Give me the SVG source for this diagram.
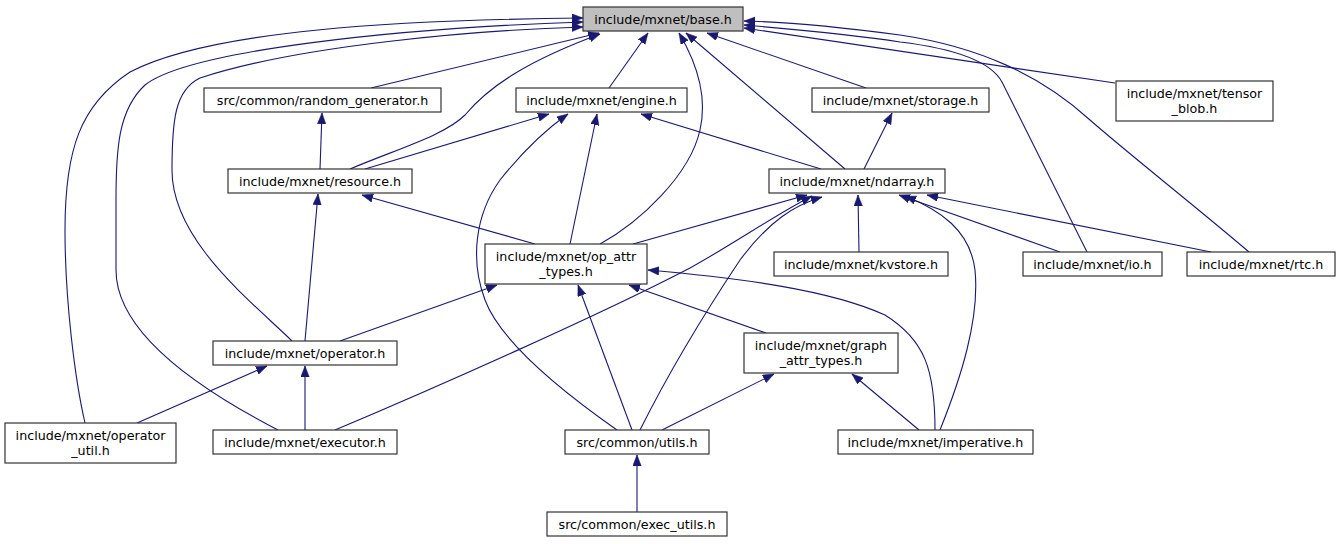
<svg xmlns="http://www.w3.org/2000/svg" width="1338" height="544" viewBox="0 0 1338 544">
<style>
.n rect{fill:#ffffff;stroke:#333333;stroke-width:1.2}
.n.base rect{fill:#bfbfbf}
.n text{font-family:"DejaVu Sans","Liberation Sans",sans-serif;font-size:12.7px;fill:#000;text-anchor:middle}
.e path{fill:none;stroke:#191970;stroke-width:1.1;marker-end:url(#ah)}
</style>
<defs>
<marker id="ah" markerUnits="userSpaceOnUse" markerWidth="12" markerHeight="9" refX="11" refY="4.25" orient="auto">
<path d="M0,0 L11,4.25 L0,8.5 z" fill="#191970" stroke="#191970" stroke-width="0.5"/>
</marker>
</defs>
<rect width="1338" height="544" fill="#ffffff"/>
<g class="e" id="edges">
<path d="M371,88 L599,33"/>
<path d="M609,88 L648,33"/>
<path d="M866,88 L707,33"/>
<path d="M1115,83 L744,28"/>
<path d="M350,169 C400,148 445,135 465,115 C490,85 530,60 600,34"/>
<path d="M845,169 L686,33"/>
<path d="M600,244 C640,222 690,175 700,130 C708,95 695,60 679,33"/>
<path d="M1087,252 L1002,82 C990,60 950,48 900,42 C850,34 800,30 744,25"/>
<path d="M1249,252 C1200,210 1130,155 1090,120 C1040,75 980,47 900,35 C840,27 790,22 744,21"/>
<path d="M292,341 C250,300 172,240 172,170 C172,120 175,90 200,78 C300,45 480,30 583,27"/>
<path d="M278,430 C220,400 116,340 116,270 L116,200 C116,150 118,110 145,85 C190,50 400,28 583,22"/>
<path d="M85,423 C75,380 65,300 65,230 C65,150 80,105 130,72 C210,30 400,20 583,18"/>
<path d="M365,169 L549,114"/>
<path d="M570,244 L597,114"/>
<path d="M821,169 L641,114"/>
<path d="M617,430 C560,390 500,340 485,300 C470,260 475,215 500,180 C520,155 545,130 568,114"/>
<path d="M320,169 L322,113"/>
<path d="M864,169 L892,113"/>
<path d="M305,341 L318,194"/>
<path d="M535,244 L362,195"/>
<path d="M633,244 L807,195"/>
<path d="M859,252 L858,195"/>
<path d="M1060,252 L899,195"/>
<path d="M1211,252 L927,195"/>
<path d="M335,430 C430,390 600,315 690,268 C735,243 775,215 812,196"/>
<path d="M640,430 C665,380 700,320 740,260 C770,220 795,205 822,197"/>
<path d="M940,430 C960,380 980,320 975,270 C970,230 940,210 905,196"/>
<path d="M340,341 L497,285"/>
<path d="M632,430 L578,285"/>
<path d="M766,333 L629,285"/>
<path d="M935,430 C935,370 925,340 885,315 C830,290 740,278 648,270"/>
<path d="M137,423 L267,366"/>
<path d="M305,430 L305,366"/>
<path d="M662,430 L774,374"/>
<path d="M919,430 L852,374"/>
<path d="M637,512 L637,455"/>
</g>
<g class="n base" id="base"><rect x="583" y="7" width="160" height="24"/><text x="663" y="23.5">include/mxnet/base.h</text></g>
<g class="n" id="random_generator"><rect x="204" y="88" width="237" height="24"/><text x="322.5" y="104.5">src/common/random_generator.h</text></g>
<g class="n" id="engine"><rect x="516" y="88" width="171" height="24"/><text x="601.5" y="104.5">include/mxnet/engine.h</text></g>
<g class="n" id="storage"><rect x="812" y="88" width="177" height="24"/><text x="900.5" y="104.5">include/mxnet/storage.h</text></g>
<g class="n" id="tensor_blob"><rect x="1116" y="81" width="157" height="40"/><text x="1194.5" y="97.5">include/mxnet/tensor</text><text x="1194.5" y="112.5">_blob.h</text></g>
<g class="n" id="resource"><rect x="228" y="169" width="184" height="24"/><text x="320" y="185.5">include/mxnet/resource.h</text></g>
<g class="n" id="ndarray"><rect x="769" y="169" width="176" height="24"/><text x="857" y="185.5">include/mxnet/ndarray.h</text></g>
<g class="n" id="op_attr_types"><rect x="485" y="244" width="162" height="40"/><text x="566" y="260.5">include/mxnet/op_attr</text><text x="566" y="275.5">_types.h</text></g>
<g class="n" id="kvstore"><rect x="774" y="252" width="174" height="24"/><text x="861" y="268.5">include/mxnet/kvstore.h</text></g>
<g class="n" id="io"><rect x="1023" y="252" width="139" height="24"/><text x="1092.5" y="268.5">include/mxnet/io.h</text></g>
<g class="n" id="rtc"><rect x="1187" y="252" width="148" height="24"/><text x="1261" y="268.5">include/mxnet/rtc.h</text></g>
<g class="n" id="operator"><rect x="213" y="341" width="184" height="24"/><text x="305" y="357.5">include/mxnet/operator.h</text></g>
<g class="n" id="graph_attr_types"><rect x="744" y="333" width="154" height="40"/><text x="821" y="349.5">include/mxnet/graph</text><text x="821" y="364.5">_attr_types.h</text></g>
<g class="n" id="operator_util"><rect x="5" y="423" width="171" height="40"/><text x="90.5" y="439.5">include/mxnet/operator</text><text x="90.5" y="454.5">_util.h</text></g>
<g class="n" id="executor"><rect x="213" y="430" width="184" height="24"/><text x="305" y="446.5">include/mxnet/executor.h</text></g>
<g class="n" id="utils"><rect x="565" y="430" width="144" height="24"/><text x="637" y="446.5">src/common/utils.h</text></g>
<g class="n" id="imperative"><rect x="838" y="430" width="195" height="24"/><text x="935.5" y="446.5">include/mxnet/imperative.h</text></g>
<g class="n" id="exec_utils"><rect x="547" y="512" width="180" height="24"/><text x="637" y="528.5">src/common/exec_utils.h</text></g>
</svg>
